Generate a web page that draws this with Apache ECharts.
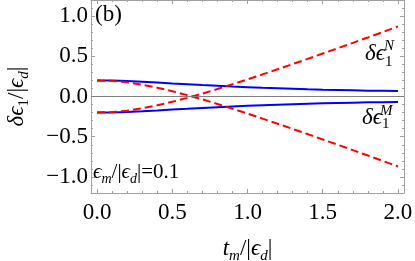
<!DOCTYPE html>
<html><head><meta charset="utf-8">
<script src="https://cdn.jsdelivr.net/npm/echarts@6/dist/echarts.min.js"></script>
<style>html,body{margin:0;padding:0;background:#fff}#c{width:415px;height:261px}</style>
</head><body><div id="c"></div>
<script>
// ---- data ----
const tValues = [0, 0.1, 0.2, 0.3, 0.4, 0.5, 0.6, 0.7, 0.8, 0.9, 1.0, 1.1, 1.2, 1.3, 1.4, 1.5, 1.6, 1.7, 1.8, 1.9, 2.0];
const blueUpper = [0.200, 0.198, 0.193, 0.184, 0.174, 0.163, 0.153, 0.142, 0.133, 0.124, 0.116, 0.108, 0.102, 0.096, 0.090, 0.085, 0.081, 0.077, 0.073, 0.070, 0.067];
const blueLower = [-0.200, -0.198, -0.193, -0.184, -0.174, -0.163, -0.153, -0.142, -0.133, -0.124, -0.116, -0.108, -0.102, -0.096, -0.090, -0.085, -0.081, -0.077, -0.073, -0.070, -0.067];
const redFalling = [0.200, 0.194, 0.176, 0.147, 0.110, 0.066, 0.017, -0.036, -0.093, -0.152, -0.212, -0.275, -0.338, -0.403, -0.468, -0.534, -0.600, -0.667, -0.734, -0.802, -0.870];
const redRising = [-0.200, -0.194, -0.176, -0.147, -0.110, -0.066, -0.017, 0.036, 0.093, 0.152, 0.212, 0.275, 0.338, 0.403, 0.468, 0.534, 0.600, 0.667, 0.734, 0.802, 0.870];

const xMajorTicks = [0, 0.5, 1.0, 1.5, 2.0];
const xTickLabels = ['0.0', '0.5', '1.0', '1.5', '2.0'];
const xMinorTicks = [0.1, 0.2, 0.3, 0.4, 0.6, 0.7, 0.8, 0.9, 1.1, 1.2, 1.3, 1.4, 1.6, 1.7, 1.8, 1.9];
const yMajorTicks = [-1.0, -0.5, 0, 0.5, 1.0];
const yTickLabels = ['\u22121.0', '\u22120.5', '0.0', '0.5', '1.0'];
const yMinorTicks = [-1.1, -0.9, -0.8, -0.7, -0.6, -0.4, -0.3, -0.2, -0.1, 0.1, 0.2, 0.3, 0.4, 0.6, 0.7, 0.8, 0.9, 1.1];

// ---- chart ----
const FONT = '"Liberation Serif", "DejaVu Serif", "Times New Roman", serif';
const FRAME = '#a0a0a0';
const pair = (xs, ys) => xs.map((x, i) => [x, ys[i]]);
const labelOf = (ticks, labels) => v => {
  const i = ticks.findIndex(t => Math.abs(t - v) < 1e-9);
  return i >= 0 ? labels[i] : '';
};

const mainSize = 23, subSize = 15;
const rich = {
  i: {fontFamily: FONT, fontStyle: 'italic', fontSize: mainSize, lineHeight: 30, color: '#000'},
  n: {fontFamily: FONT, fontSize: mainSize, lineHeight: 30, color: '#000'},
  s: {fontFamily: FONT, fontStyle: 'italic', fontSize: subSize, lineHeight: 14, verticalAlign: 'bottom', color: '#000'},
  s1: {fontFamily: FONT, fontSize: subSize, lineHeight: 14, verticalAlign: 'bottom', color: '#000'}
};
const richSmall = {
  i: {fontFamily: FONT, fontStyle: 'italic', fontSize: 21, lineHeight: 28, color: '#000'},
  n: {fontFamily: FONT, fontSize: 21, lineHeight: 28, color: '#000'},
  s: {fontFamily: FONT, fontStyle: 'italic', fontSize: 14, lineHeight: 13, verticalAlign: 'bottom', color: '#000'}
};

function xAx(pos, ticks, len, main) {
  return {
    type: 'value', position: pos, min: -0.04, max: 2.04,
    axisLine: {show: main, onZero: false, lineStyle: {color: FRAME, width: 1}},
    axisTick: {show: true, inside: true, length: len, customValues: ticks, lineStyle: {color: FRAME, width: 1}},
    axisLabel: {show: false},
    splitLine: {show: false}
  };
}
function yAx(pos, ticks, len, main) {
  return {
    type: 'value', position: pos, min: -1.2, max: 1.2,
    axisLine: {show: main, onZero: false, lineStyle: {color: FRAME, width: 1}},
    axisTick: {show: true, inside: true, length: len, customValues: ticks, lineStyle: {color: FRAME, width: 1}},
    axisLabel: {show: false},
    splitLine: {show: false}
  };
}

const xBottom = xAx('bottom', xMajorTicks, 4, true);
xBottom.axisLabel = {
  show: true, customValues: xMajorTicks, formatter: labelOf(xMajorTicks, xTickLabels),
  fontFamily: FONT, fontSize: mainSize, color: '#000', margin: 8
};
xBottom.name = '{i|t}{s|m}{n|/|}{i|\u03f5}{s|d}{n||}';
xBottom.nameLocation = 'middle';
xBottom.nameGap = 41;
xBottom.nameTextStyle = {rich: rich};

const yLeft = yAx('left', yMajorTicks, 4, true);
yLeft.axisLabel = {
  show: true, customValues: yMajorTicks, formatter: labelOf(yMajorTicks, yTickLabels),
  fontFamily: FONT, fontSize: mainSize, color: '#000', margin: 3
};
yLeft.name = '{i|\u03b4\u03f5}{s1|1}{n|/|}{i|\u03f5}{s|d}{n||}';
yLeft.nameLocation = 'middle';
yLeft.nameGap = 59;
yLeft.nameTextStyle = {rich: rich};

const option = {
  animation: false,
  backgroundColor: '#fff',
  grid: {left: 91, right: 11, top: 0, bottom: 68, containLabel: false, outerBoundsMode: 'none'},
  xAxis: [
    xBottom,
    xAx('bottom', xMinorTicks, 2, false),
    xAx('top', xMajorTicks, 4, true),
    xAx('top', xMinorTicks, 2, false)
  ],
  yAxis: [
    yLeft,
    yAx('left', yMinorTicks, 2, false),
    yAx('right', yMajorTicks, 4, true),
    yAx('right', yMinorTicks, 2, false)
  ],
  series: [
    {type: 'line', data: pair(tValues, blueUpper), showSymbol: false, symbol: 'none',
     lineStyle: {color: '#0000ff', width: 2}, z: 3,
     markLine: {silent: true, symbol: 'none', label: {show: false},
       lineStyle: {color: '#808080', width: 1, type: 'solid'}, data: [{yAxis: 0}]}},
    {type: 'line', data: pair(tValues, blueLower), showSymbol: false, symbol: 'none',
     lineStyle: {color: '#0000ff', width: 2}, z: 3},
    {type: 'line', data: pair(tValues, redFalling), showSymbol: false, symbol: 'none',
     lineStyle: {color: '#ff0000', width: 2, type: [8, 4]}, z: 4},
    {type: 'line', data: pair(tValues, redRising), showSymbol: false, symbol: 'none',
     lineStyle: {color: '#ff0000', width: 2, type: [8, 4]}, z: 4}
  ],
  graphic: [
    {type: 'text', x: 95, y: 15, z: 10,
     style: {text: '(b)', font: mainSize + 'px ' + FONT, fill: '#000', verticalAlign: 'middle'}},
    {type: 'text', x: 93, y: 172, z: 10,
     style: {text: '{i|\u03f5}{s|m}{n|/|}{i|\u03f5}{s|d}{n||=0.1}', rich: richSmall, verticalAlign: 'middle'}},
    {type: 'text', x: 365, y: 54, z: 10,
     style: {text: '\u03b4\u03f5', font: 'italic ' + mainSize + 'px ' + FONT, fill: '#000', verticalAlign: 'middle'}},
    {type: 'text', x: 384, y: 46, z: 10,
     style: {text: 'N', font: 'italic ' + subSize + 'px ' + FONT, fill: '#000', verticalAlign: 'middle'}},
    {type: 'text', x: 385, y: 62, z: 10,
     style: {text: '1', font: subSize + 'px ' + FONT, fill: '#000', verticalAlign: 'middle'}},
    {type: 'text', x: 362, y: 118, z: 10,
     style: {text: '\u03b4\u03f5', font: 'italic ' + mainSize + 'px ' + FONT, fill: '#000', verticalAlign: 'middle'}},
    {type: 'text', x: 380, y: 111, z: 10,
     style: {text: 'M', font: 'italic ' + subSize + 'px ' + FONT, fill: '#000', verticalAlign: 'middle'}},
    {type: 'text', x: 382, y: 124, z: 10,
     style: {text: '1', font: subSize + 'px ' + FONT, fill: '#000', verticalAlign: 'middle'}}
  ]
};
const chart = echarts.init(document.getElementById('c'), null, {renderer: 'canvas'});
chart.setOption(option);
</script></body></html>
